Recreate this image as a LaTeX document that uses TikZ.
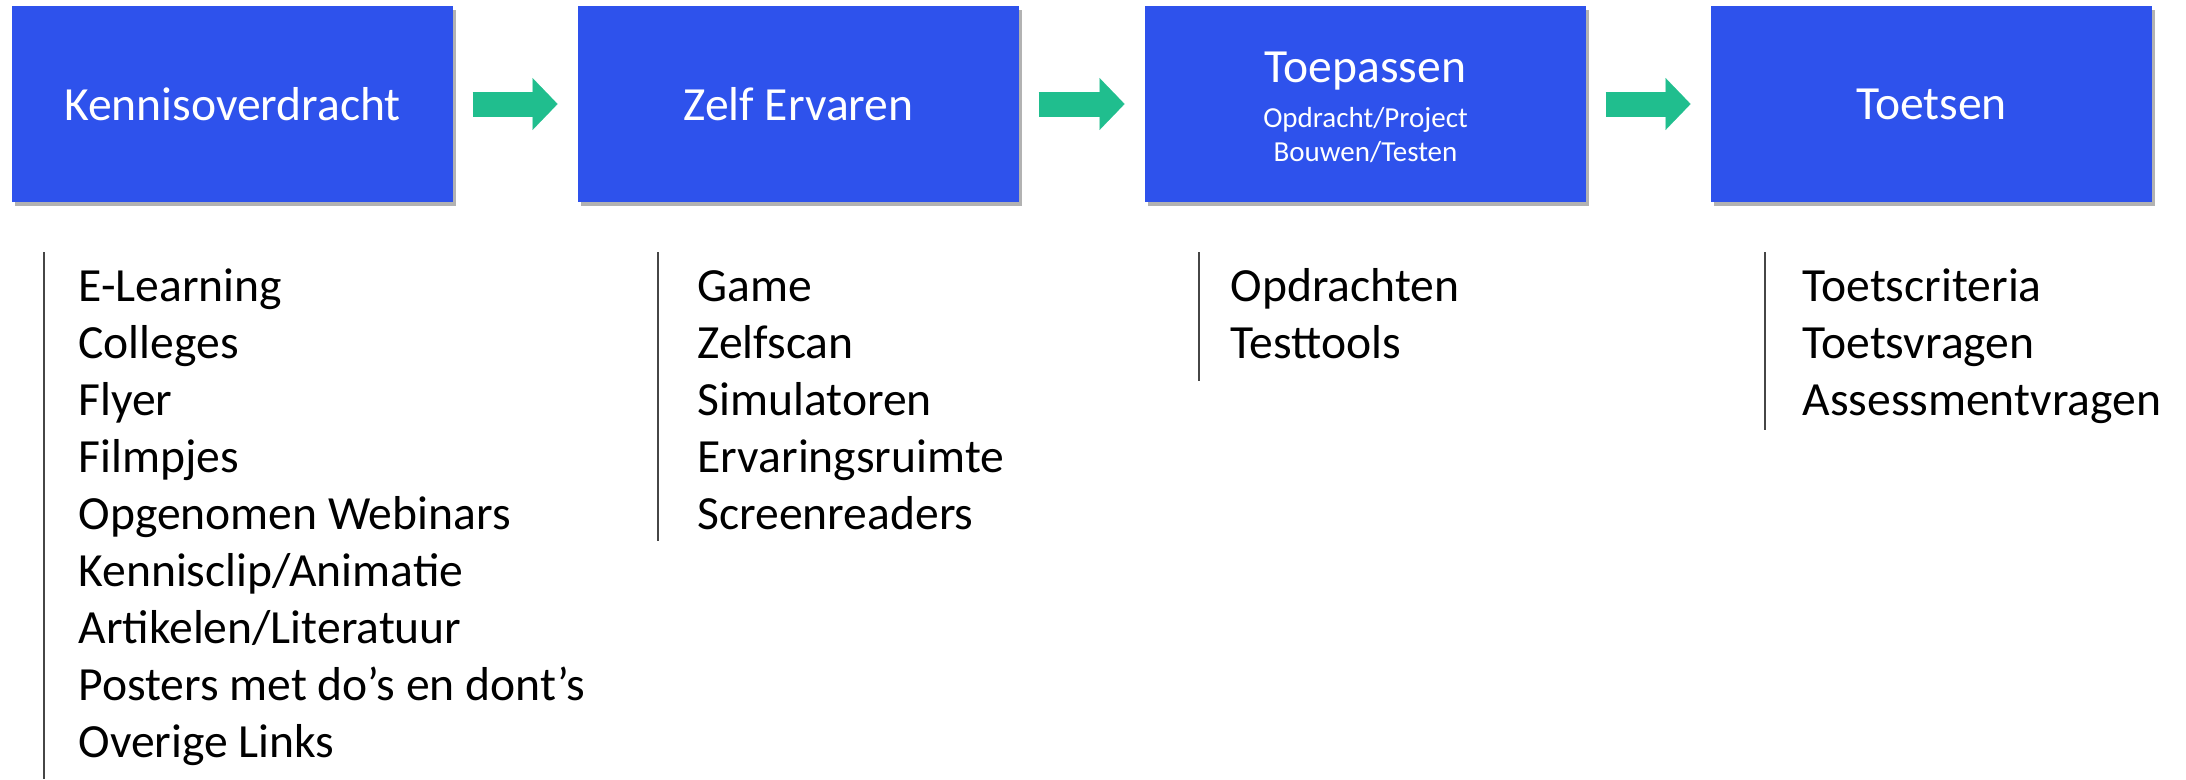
\documentclass[tikz,border=0pt]{standalone}
\usepackage{fontspec}
\setmainfont{Carlito}
\usetikzlibrary{arrows.meta,shadows}

\definecolor{stepblue}{RGB}{46,82,236}
\definecolor{flowgreen}{RGB}{32,190,142}
\definecolor{rulegray}{RGB}{70,70,70}

\tikzset{every picture/.style={line width=0.75pt}}
\tikzset{
  stepbox/.style={fill=stepblue, text=white, minimum width=330.75pt, minimum height=147pt, inner sep=0pt, align=center, font=\fontsize{35.7}{42.8}\selectfont, drop shadow={shadow xshift=2.5pt, shadow yshift=-3pt, opacity=0.3, fill=black}},
  flow/.style={draw=flowgreen, line width=18.75pt, -{Triangle[width=39pt,length=18.75pt,line width=0.1pt]}},
  item/.style={anchor=base west, inner sep=0pt, font=\fontsize{35.7}{42.8}\selectfont},
  divider/.style={draw=rulegray, line width=1.6pt}
}
\newcommand{\substep}{\fontsize{21.75}{24.75}\selectfont}

\begin{document}
\begin{tikzpicture}[x=0.75pt,y=0.75pt,yscale=-1,xscale=1]
\useasboundingbox (0,0) rectangle (2186,779);

% Steps
\node [stepbox] (kennis) at (232.5,104) {Kennisoverdracht};
\node [stepbox] (zelf) at (798.5,104) {Zelf Ervaren};
\node [stepbox] (toep) at (1365.5,104) {};
\node [text=white, align=center, font=\fontsize{35.7}{42.8}\selectfont] (toeptxt) at (1365.5,107) {Toepassen\\[-8.5pt]\substep Opdracht/Project\\[-18pt]\substep Bouwen/Testen};
\node [stepbox] (toets) at (1931.5,104) {Toetsen};

% Arrows between the steps
\draw [flow] ([xshift=14.25pt]kennis.east) -- ([xshift=-15pt]zelf.west);
\draw [flow] ([xshift=14.25pt]zelf.east) -- ([xshift=-15pt]toep.west);
\draw [flow] ([xshift=14.25pt]toep.east) -- ([xshift=-15pt]toets.west);

% Dividers
\draw [divider] (44,252) -- (44,779);
\draw [divider] (658,252) -- (658,541);
\draw [divider] (1199,252) -- (1199,381);
\draw [divider] (1765,252) -- (1765,430);

% Kennisoverdracht
\node [item] (ken1) at (78,301) {E-Learning};
\node [item] (ken2) at (78,358) {Colleges};
\node [item] (ken3) at (78,415) {Flyer};
\node [item] (ken4) at (78,472) {Filmpjes};
\node [item] (ken5) at (78,529) {Opgenomen Webinars};
\node [item] (ken6) at (78,586) {Kennisclip/Animatie};
\node [item] (ken7) at (78,643) {Artikelen/Literatuur};
\node [item] (ken8) at (78,700) {Posters met do’s en dont’s};
\node [item] (ken9) at (78,757) {Overige Links};

% Zelf Ervaren
\node [item] (zelf1) at (697,301) {Game};
\node [item] (zelf2) at (697,358) {Zelfscan};
\node [item] (zelf3) at (697,415) {Simulatoren};
\node [item] (zelf4) at (697,472) {Ervaringsruimte};
\node [item] (zelf5) at (697,529) {Screenreaders};

% Toepassen
\node [item] (toep1) at (1230,301) {Opdrachten};
\node [item] (toep2) at (1230,358) {Testtools};

% Toetsen
\node [item] (toets1) at (1802,301) {Toetscriteria};
\node [item] (toets2) at (1802,358) {Toetsvragen};
\node [item] (toets3) at (1802,415) {Assessmentvragen};

\end{tikzpicture}
\end{document}
